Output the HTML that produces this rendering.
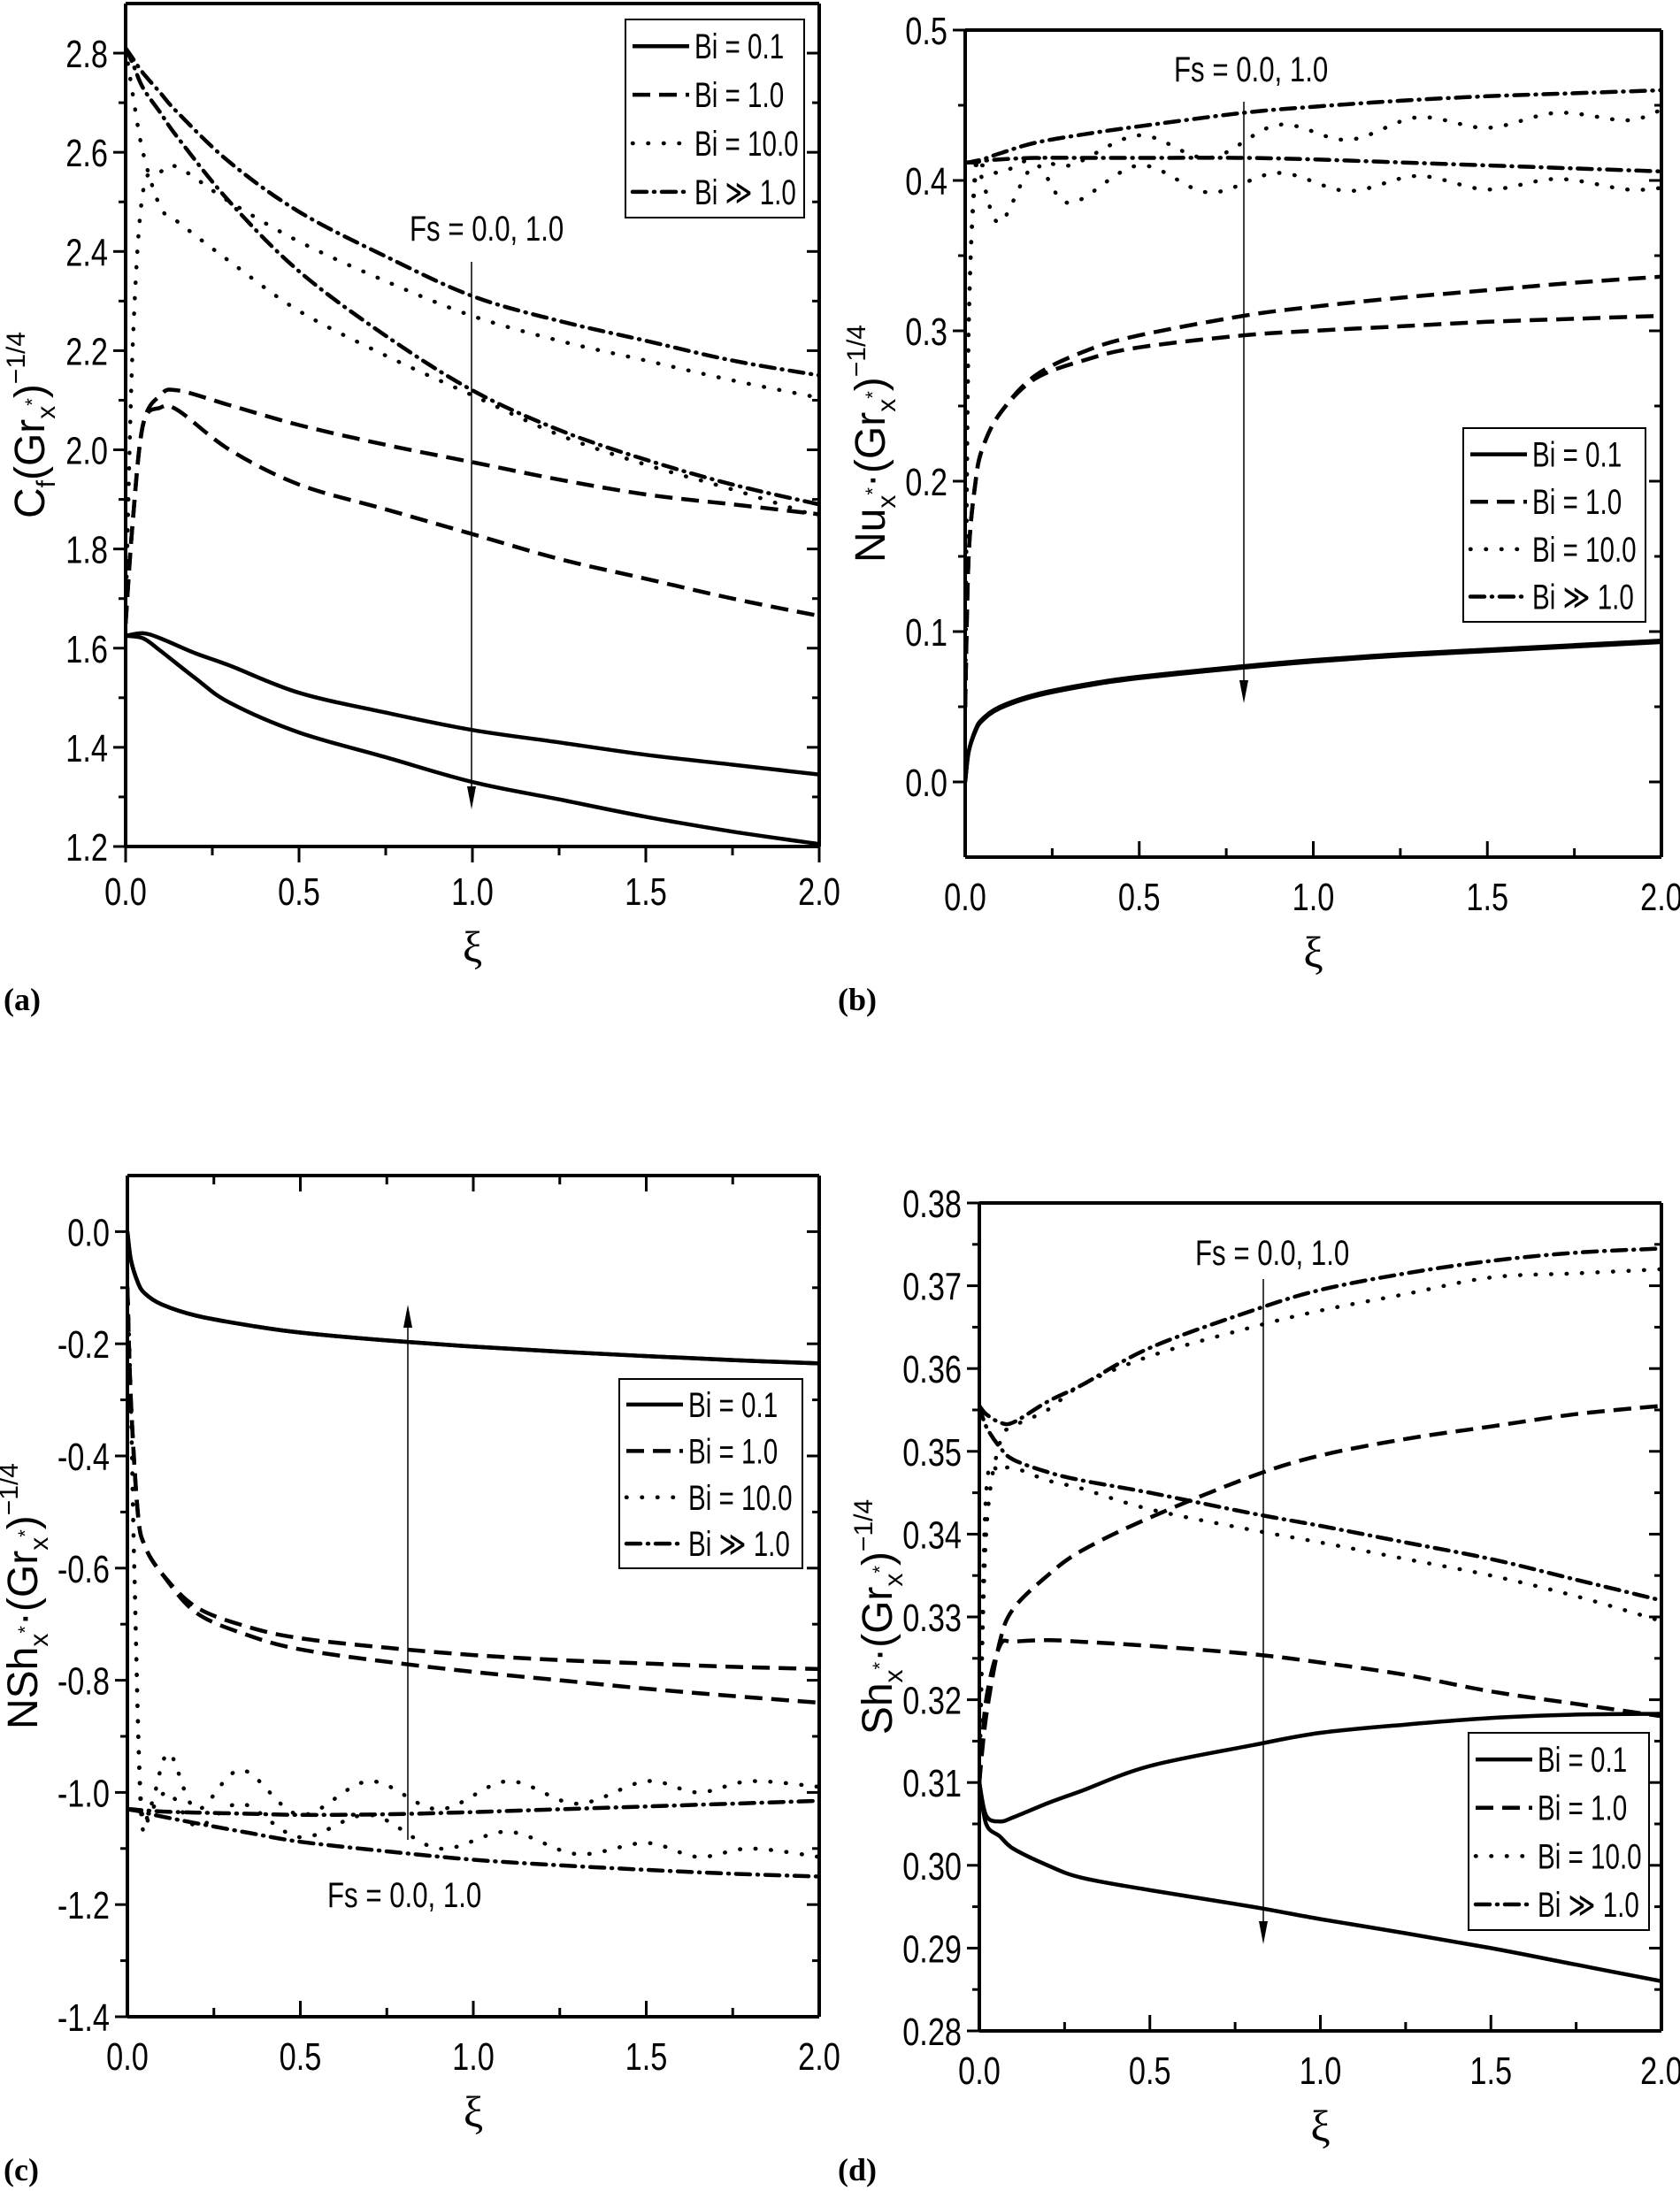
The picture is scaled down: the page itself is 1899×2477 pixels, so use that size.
<!DOCTYPE html>
<html><head><meta charset="utf-8">
<style>
html,body{margin:0;padding:0;background:#fff;}
svg{display:block;}
.tk{font-family:"Liberation Sans",sans-serif;font-size:44px;fill:#000;}
.lg{font-family:"Liberation Sans",sans-serif;font-size:40px;fill:#000;}
.yl{font-family:"Liberation Sans",sans-serif;font-size:48px;fill:#000;}
.pl{font-family:"Liberation Serif",serif;font-size:36px;font-weight:bold;fill:#000;}
.xi{font-family:"Liberation Serif","DejaVu Serif",serif;font-size:50px;fill:#000;}
</style></head>
<body>
<svg id="fig" width="1899" height="2477" viewBox="0 0 1899 2477" xmlns="http://www.w3.org/2000/svg"></svg>
<script>
// ---------- Panel (a) skin friction ----------
const aXsolid=[0,0.05,0.1,0.2,0.3,0.5,0.75,1.0,1.25,1.5,1.75,2.0];
const aSolid0=[1.625,1.63,1.62,1.59,1.565,1.51,1.47,1.435,1.41,1.385,1.365,1.345];
const aSolid1=[1.625,1.62,1.595,1.54,1.49,1.43,1.38,1.33,1.295,1.26,1.23,1.205];
const aXcurve=[0,0.02,0.05,0.1,0.15,0.3,0.5,0.75,1.0,1.25,1.5,1.75,2.0];
const aDash0=[1.65,1.85,2.05,2.11,2.12,2.09,2.05,2.01,1.975,1.94,1.91,1.89,1.87];
const aDash1=[1.65,1.85,2.05,2.085,2.08,2.0,1.93,1.88,1.83,1.78,1.74,1.70,1.665];
const aDot0=[1.65,2.2,2.52,2.56,2.57,2.5,2.42,2.34,2.27,2.22,2.18,2.14,2.105];
const aDot1=[2.81,2.72,2.6,2.49,2.46,2.38,2.28,2.19,2.11,2.03,1.97,1.92,1.865];
const aDD0=[2.81,2.79,2.76,2.72,2.68,2.58,2.48,2.39,2.31,2.26,2.22,2.18,2.15];
const aDD1=[2.81,2.78,2.73,2.68,2.63,2.5,2.36,2.23,2.12,2.04,1.98,1.93,1.89];
// ---------- Panel (b) Nusselt ----------
const bXcurve=[0,0.01,0.03,0.05,0.1,0.2,0.35,0.5,0.8,1.0,1.25,1.5,1.75,2.0];
const bSolid0=[0,0.02,0.035,0.042,0.05,0.058,0.065,0.07,0.077,0.081,0.085,0.088,0.091,0.094];
const bSolid1=[0,0.02,0.034,0.041,0.049,0.057,0.064,0.069,0.076,0.080,0.084,0.087,0.090,0.093];
const bDash0=[0.05,0.15,0.2,0.222,0.245,0.27,0.287,0.297,0.31,0.316,0.322,0.327,0.332,0.336];
const bDash1=[0.05,0.15,0.2,0.222,0.245,0.268,0.281,0.289,0.297,0.3,0.303,0.306,0.308,0.31];
const bDD0=[0.412,0.412,0.413,0.414,0.418,0.425,0.431,0.436,0.445,0.449,0.453,0.456,0.458,0.46];
const bDD1=[0.412,0.412,0.412,0.413,0.414,0.415,0.415,0.415,0.415,0.414,0.412,0.41,0.408,0.406];
const bXdot=[0,0.01,0.03,0.05,0.1,0.2,0.3,0.5,0.7,0.9,1.1,1.3,1.5,1.7,1.9,2.0];
const bDot0=[0.05,0.3,0.405,0.41,0.405,0.415,0.41,0.43,0.415,0.437,0.427,0.442,0.435,0.445,0.44,0.447];
const bDot1=[0.05,0.3,0.41,0.40,0.372,0.41,0.385,0.41,0.392,0.405,0.393,0.403,0.394,0.401,0.394,0.395];
// ---------- Panel (c) NSh ----------
const cXcurve=[0,0.01,0.03,0.05,0.1,0.2,0.35,0.5,0.75,1.0,1.25,1.5,1.75,2.0];
const cSolid0=[0,-0.05,-0.09,-0.11,-0.13,-0.15,-0.167,-0.18,-0.194,-0.205,-0.214,-0.222,-0.229,-0.235];
const cSolid1=[0,-0.05,-0.09,-0.11,-0.13,-0.15,-0.167,-0.18,-0.194,-0.205,-0.214,-0.222,-0.229,-0.235];
const cDash0=[-0.1,-0.3,-0.5,-0.56,-0.61,-0.67,-0.705,-0.725,-0.742,-0.755,-0.764,-0.77,-0.776,-0.78];
const cDash1=[-0.1,-0.3,-0.5,-0.56,-0.61,-0.68,-0.72,-0.745,-0.767,-0.785,-0.8,-0.815,-0.828,-0.84];
const cDD0=[-1.03,-1.03,-1.031,-1.032,-1.034,-1.036,-1.038,-1.04,-1.039,-1.035,-1.03,-1.025,-1.02,-1.015];
const cDD1=[-1.03,-1.031,-1.033,-1.036,-1.043,-1.055,-1.072,-1.088,-1.105,-1.12,-1.13,-1.138,-1.145,-1.15];
const cXdot=[0,0.01,0.02,0.04,0.07,0.12,0.2,0.33,0.5,0.7,0.9,1.1,1.3,1.5,1.65,1.8,2.0];
const cDot0=[-0.1,-0.3,-0.6,-1.02,-1.02,-0.93,-1.03,-0.96,-1.04,-0.98,-1.03,-0.98,-1.02,-0.98,-1.0,-0.98,-0.99];
const cDot1=[-0.1,-0.3,-0.6,-1.04,-1.03,-1.0,-1.06,-1.02,-1.08,-1.04,-1.1,-1.07,-1.11,-1.09,-1.115,-1.1,-1.115];
// ---------- Panel (d) Sh ----------
const dXcurve=[0,0.02,0.06,0.1,0.2,0.3,0.5,0.8,1.0,1.25,1.5,1.75,2.0];
const dSolid0=[0.31,0.306,0.3053,0.3058,0.3075,0.309,0.312,0.3145,0.316,0.317,0.3178,0.3182,0.3183];
const dSolid1=[0.31,0.305,0.3035,0.302,0.3,0.2985,0.297,0.295,0.2935,0.2918,0.29,0.288,0.286];
const dDash0=[0.31,0.318,0.327,0.331,0.335,0.338,0.342,0.347,0.3495,0.3515,0.353,0.3545,0.3555];
const dDash1=[0.31,0.32,0.3265,0.327,0.3272,0.327,0.3265,0.3255,0.3245,0.323,0.321,0.3195,0.318];
const dDot0=[0.31,0.34,0.351,0.353,0.355,0.358,0.3615,0.365,0.367,0.369,0.371,0.3715,0.372];
const dDot1=[0.31,0.345,0.3475,0.348,0.3465,0.3455,0.343,0.3405,0.339,0.337,0.335,0.3325,0.3295];
const dDD0=[0.3555,0.3545,0.3535,0.3535,0.356,0.358,0.3625,0.367,0.3695,0.3715,0.373,0.374,0.3745];
const dDD1=[0.3555,0.353,0.3505,0.349,0.3475,0.3465,0.345,0.3425,0.341,0.339,0.337,0.3345,0.332];

const xTicks=[0,0.5,1.0,1.5,2.0];
const xTickLabels=["0.0","0.5","1.0","1.5","2.0"];
const legendLabels=["Bi = 0.1","Bi = 1.0","Bi = 10.0","Bi ≫ 1.0"];

const NS="http://www.w3.org/2000/svg";
const svg=document.getElementById('fig');
function mk(tag,attrs,parent){const e=document.createElementNS(NS,tag);for(const k in attrs)e.setAttribute(k,attrs[k]);(parent||svg).appendChild(e);return e;}
function ntext(parent,x,y,anchor,cls,content,sx){
 const t=mk('text',{x:0,y:0,'text-anchor':anchor,class:cls,transform:'translate('+x+','+y+') scale('+sx+',1)'},parent);
 t.textContent=content;
 return t;
}
const styles={
 solid:{"stroke-dasharray":"none"},
 dash:{"stroke-dasharray":"20,10"},
 dot:{"stroke-dasharray":"0.5,17","stroke-linecap":"round"},
 dd:{"stroke-dasharray":"16,8,1,8","stroke-linecap":"round"}
};
function smoothPath(pts){
 let d="M"+pts[0][0].toFixed(1)+","+pts[0][1].toFixed(1);
 for(let i=0;i<pts.length-1;i++){
  const p0=pts[Math.max(0,i-1)],p1=pts[i],p2=pts[i+1],p3=pts[Math.min(pts.length-1,i+2)];
  const c1=[p1[0]+(p2[0]-p0[0])/6,p1[1]+(p2[1]-p0[1])/6];
  const c2=[p2[0]-(p3[0]-p1[0])/6,p2[1]-(p3[1]-p1[1])/6];
  d+=" C"+c1[0].toFixed(1)+","+c1[1].toFixed(1)+" "+c2[0].toFixed(1)+","+c2[1].toFixed(1)+" "+p2[0].toFixed(1)+","+p2[1].toFixed(1);
 }
 return d;
}
function panel(o){
 const g=mk('g',{});
 
 
 const X=v=>o.L+(v-0)/(2-0)*(o.R-o.L);
 const Y=v=>o.B-(v-o.ymin)/(o.ymax-o.ymin)*(o.B-o.T);
 const clip=mk('clipPath',{id:'clip-'+o.name},g);
 mk('rect',{x:o.L,y:o.T,width:o.R-o.L,height:o.B-o.T},clip);
 const sg=mk('g',{'clip-path':'url(#clip-'+o.name+')'},g);
 o.series.forEach(s=>{
  const pts=s.x.map((xv,i)=>[X(xv),Y(s.y[i])]);
  const p=mk('path',Object.assign({d:smoothPath(pts),fill:'none',stroke:'#000','stroke-width':4.5},styles[s.style]),sg);
  
  
 });
 const fr=mk('g',{stroke:'#000','stroke-width':4,fill:'none'},g);
 
 
 mk('line',{x1:o.L,y1:o.T,x2:o.R,y2:o.T},fr);
 mk('line',{x1:o.L,y1:o.B,x2:o.R,y2:o.B},fr);
 mk('line',{x1:o.L,y1:o.T,x2:o.L,y2:o.B},fr);
 mk('line',{x1:o.R,y1:o.T,x2:o.R,y2:o.B},fr);
 const dir=o.xout?1:-1;
 for(let k=0;k<=8;k++){
  const v=k*0.25,x=X(v),len=(k%2==0)?18:10;
  mk('line',{x1:x,y1:o.B,x2:x,y2:o.B+dir*len,stroke:'#000','stroke-width':3},g);
  if(o.topTicks) mk('line',{x1:x,y1:o.T,x2:x,y2:o.T+len,stroke:'#000','stroke-width':3},g);
 }
 xTicks.forEach((v,i)=>{
  const t=ntext(g,X(v),o.B+(o.xout?66:60),'middle','tk',xTickLabels[i],0.78);
  
  
 });
 const nMaj=Math.round((o.yTop-o.yBot)/o.ystep);
 for(let k=0;k<=nMaj*2;k++){
  const v=o.yBot+k*o.ystep/2;
  if(v>o.ymax+1e-9||v<o.ymin-1e-9)continue;
  const y=Y(v),maj=(k%2==0);
  mk('line',{x1:o.L,y1:y,x2:o.L-(maj?14:8),y2:y,stroke:'#000','stroke-width':3},g);
  mk('line',{x1:o.R,y1:y,x2:o.R-(maj?14:8),y2:y,stroke:'#000','stroke-width':3},g);
  if(maj){
   const t=ntext(g,o.L-20,y+16,'end','tk',v.toFixed(o.dec),0.78);
   
   
  }
 }
 const xl=mk('text',{x:(o.L+o.R)/2,y:o.B+(o.xout?130:124),'text-anchor':'middle',class:'xi'},g);
 xl.textContent='ξ';
 
 
 const yl=mk('text',{x:0,y:0,'text-anchor':'middle',class:'yl',transform:'translate('+o.ylx+','+((o.T+o.B)/2)+') rotate(-90)'},g);
 
 
 yl.innerHTML=o.ylabel;
 const lg=mk('g',{},g);
 
 
 mk('rect',{x:o.lg[0],y:o.lg[1],width:o.lg[2],height:o.lg[3],fill:'#fff',stroke:'#000','stroke-width':2},lg);
 ['solid','dash','dot','dd'].forEach((st,i)=>{
  const y=o.lg[1]+o.lg[3]*(0.135+i*0.245);
  mk('line',Object.assign({x1:o.lg[0]+8,y1:y,x2:o.lg[0]+72,y2:y,stroke:'#000','stroke-width':4.5},styles[st]),lg);
  const t=ntext(lg,o.lg[0]+78,y+14,'start','lg',legendLabels[i],0.74);
  
  
 });
 const at=ntext(g,o.ann.tx,o.ann.ty,'start','lg','Fs = 0.0, 1.0',0.78);
 
 
 const ax=o.ann.x,y1=o.ann.y1,y2=o.ann.y2,s=y2>y1?1:-1;
 const ar=mk('g',{},g);
 
 
 mk('line',{x1:ax,y1:y1,x2:ax,y2:y2-s*20,stroke:'#000','stroke-width':1.5},ar);
 mk('polygon',{points:(ax-5)+','+(y2-s*26)+' '+(ax+5)+','+(y2-s*26)+' '+ax+','+y2,fill:'#000'},ar);
 const pl=mk('text',{x:o.plx,y:o.ply,class:'pl'},g);
 pl.textContent=o.plabel;
 
 
}
const ylA='C<tspan font-size="30" dy="12">f</tspan><tspan dy="-12">(Gr</tspan><tspan font-size="30" dy="12">x</tspan><tspan font-size="22" dy="-18">*</tspan><tspan dy="6">)</tspan><tspan font-size="30" dy="-22">−1/4</tspan>';
const mkY=(n)=>n+'<tspan font-size="30" dy="12">x</tspan><tspan font-size="22" dy="-18">*</tspan><tspan dy="6">·(Gr</tspan><tspan font-size="30" dy="12">x</tspan><tspan font-size="22" dy="-18">*</tspan><tspan dy="6">)</tspan><tspan font-size="30" dy="-22">−1/4</tspan>';
panel({name:'panel-a-skin-friction',L:142,R:926,T:4,B:957,ymin:1.2,ymax:2.9,yBot:1.2,yTop:2.8,ystep:0.2,dec:1,xout:true,
 ylx:50,ylabel:ylA,plx:4,ply:1142,plabel:'(a)',lg:[707,22,202,224],
 ann:{tx:463,ty:272,x:533,y1:296,y2:915},
 series:[{name:'a-bi0.1-fs0',x:aXsolid,y:aSolid0,style:'solid'},{name:'a-bi0.1-fs1',x:aXsolid,y:aSolid1,style:'solid'},
 {name:'a-bi1-fs0',x:aXcurve,y:aDash0,style:'dash'},{name:'a-bi1-fs1',x:aXcurve,y:aDash1,style:'dash'},
 {name:'a-bi10-fs0',x:aXcurve,y:aDot0,style:'dot'},{name:'a-bi10-fs1',x:aXcurve,y:aDot1,style:'dot'},
 {name:'a-biinf-fs0',x:aXcurve,y:aDD0,style:'dd'},{name:'a-biinf-fs1',x:aXcurve,y:aDD1,style:'dd'}]});
panel({name:'panel-b-nusselt',L:1091,R:1878,T:34,B:969,ymin:-0.05,ymax:0.5,yBot:0,yTop:0.5,ystep:0.1,dec:1,xout:false,
 ylx:1000,ylabel:mkY('Nu'),plx:947,ply:1142,plabel:'(b)',lg:[1654,484,206,219],
 ann:{tx:1327,ty:92,x:1406,y1:115,y2:795},
 series:[{name:'b-bi0.1-fs0',x:bXcurve,y:bSolid0,style:'solid'},{name:'b-bi0.1-fs1',x:bXcurve,y:bSolid1,style:'solid'},
 {name:'b-bi1-fs0',x:bXcurve,y:bDash0,style:'dash'},{name:'b-bi1-fs1',x:bXcurve,y:bDash1,style:'dash'},
 {name:'b-bi10-fs0',x:bXdot,y:bDot0,style:'dot'},{name:'b-bi10-fs1',x:bXdot,y:bDot1,style:'dot'},
 {name:'b-biinf-fs0',x:bXcurve,y:bDD0,style:'dd'},{name:'b-biinf-fs1',x:bXcurve,y:bDD1,style:'dd'}]});
panel({name:'panel-c-nsh',L:144,R:926,T:1329,B:2280,ymin:-1.4,ymax:0.1,yBot:-1.4,yTop:0.0,ystep:0.2,dec:1,xout:false,topTicks:true,
 ylx:42,ylabel:mkY('NSh'),plx:4,ply:2465,plabel:'(c)',lg:[700,1559,207,214],
 ann:{tx:370,ty:2156,x:461,y1:2080,y2:1475},
 series:[{name:'c-bi0.1-fs0',x:cXcurve,y:cSolid0,style:'solid'},{name:'c-bi0.1-fs1',x:cXcurve,y:cSolid1,style:'solid'},
 {name:'c-bi1-fs0',x:cXcurve,y:cDash0,style:'dash'},{name:'c-bi1-fs1',x:cXcurve,y:cDash1,style:'dash'},
 {name:'c-bi10-fs0',x:cXdot,y:cDot0,style:'dot'},{name:'c-bi10-fs1',x:cXdot,y:cDot1,style:'dot'},
 {name:'c-biinf-fs0',x:cXcurve,y:cDD0,style:'dd'},{name:'c-biinf-fs1',x:cXcurve,y:cDD1,style:'dd'}]});
panel({name:'panel-d-sherwood',L:1107,R:1878,T:1360,B:2296,ymin:0.28,ymax:0.38,yBot:0.28,yTop:0.38,ystep:0.01,dec:2,xout:false,
 ylx:1008,ylabel:mkY('Sh'),plx:947,ply:2465,plabel:'(d)',lg:[1660,1959,204,223],
 ann:{tx:1351,ty:1430,x:1428,y1:1446,y2:2198},
 series:[{name:'d-bi0.1-fs0',x:dXcurve,y:dSolid0,style:'solid'},{name:'d-bi0.1-fs1',x:dXcurve,y:dSolid1,style:'solid'},
 {name:'d-bi1-fs0',x:dXcurve,y:dDash0,style:'dash'},{name:'d-bi1-fs1',x:dXcurve,y:dDash1,style:'dash'},
 {name:'d-bi10-fs0',x:dXcurve,y:dDot0,style:'dot'},{name:'d-bi10-fs1',x:dXcurve,y:dDot1,style:'dot'},
 {name:'d-biinf-fs0',x:dXcurve,y:dDD0,style:'dd'},{name:'d-biinf-fs1',x:dXcurve,y:dDD1,style:'dd'}]});
</script>
</body></html>
